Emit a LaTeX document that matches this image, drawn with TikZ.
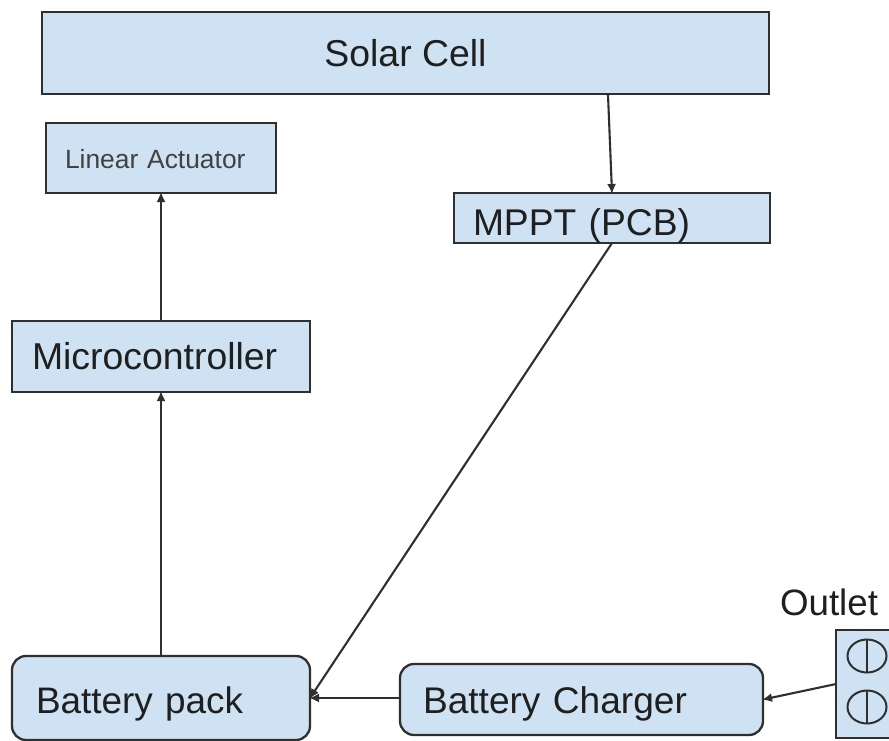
\documentclass[tikz,border=0pt]{standalone}
\usepackage{fontspec}
\setmainfont{Liberation Sans}
\usetikzlibrary{arrows.meta,calc,shapes.geometric}
\definecolor{boxfill}{HTML}{CFE2F3}
\definecolor{boxline}{HTML}{2F2F2F}
\definecolor{inktext}{HTML}{1F1F1F}
\tikzset{
  boxbase/.style={draw=boxline,fill=boxfill,line width=2.3pt,inner sep=0pt,outer sep=0pt,anchor=north west,text=inktext},
  sqbox/.style={boxbase},
  rbox/.style={boxbase,rounded corners=14pt},
  conn/.style={draw=boxline,line width=2.1pt,-{Latex[length=10pt,width=9pt]},shorten >=-1pt},
  socket/.style={ellipse,draw=boxline,line width=2pt,minimum width=39pt,minimum height=33pt,inner sep=0pt,outer sep=0pt}
}
\begin{document}
\begin{tikzpicture}[x=1pt,y=-1pt]
\useasboundingbox (0,0) rectangle (889,740);
\clip (0,0) rectangle (889,740);
\fill[white] (0,0) rectangle (889,740);

\node[sqbox,minimum width=727pt,minimum height=82pt,font=\fontsize{37.4pt}{40pt}\selectfont] (solar) at (42,12) {Solar Cell};
\node[sqbox,minimum width=230pt,minimum height=70pt,text width=212pt,align=left,text height=20pt,text depth=0pt,font=\fontsize{26.4pt}{30pt}\selectfont,text=inktext!85!white] (linear) at (46,123) {\hspace*{10pt}Linear Actuator};
\node[sqbox,minimum width=316pt,minimum height=50pt,text width=298pt,align=left,text height=34pt,text depth=0pt,font=\fontsize{37.2pt}{40pt}\selectfont] (mppt) at (454,193) {\hspace*{10pt}MPPT (PCB)};
\node[sqbox,minimum width=298pt,minimum height=71pt,text width=280pt,align=left,text height=25pt,text depth=0pt,font=\fontsize{37.4pt}{44pt}\selectfont] (micro) at (12,321) {\hspace*{11pt}Microcontroller};
\node[rbox,minimum width=298pt,minimum height=84pt,text width=280pt,align=left,text height=30pt,text depth=0pt,font=\fontsize{36.9pt}{40pt}\selectfont] (battery) at (12,656) {\hspace*{15pt}Battery pack};
\node[rbox,minimum width=363pt,minimum height=71pt,text width=345pt,align=left,text height=27pt,text depth=0pt,font=\fontsize{37.1pt}{40pt}\selectfont] (charger) at (400,664) {\hspace*{14pt}Battery Charger};
\node[sqbox,minimum width=70pt,minimum height=108pt] (outlet) at (836,630) {};
\node[socket] (s1) at (867,656) {};
\node[socket] (s2) at (867,707) {};
\draw[boxline,line width=2pt] (s1.north) -- (s1.south);
\draw[boxline,line width=2pt] (s2.north) -- (s2.south);
\node[anchor=base,text=inktext,inner sep=0pt,font=\fontsize{36.7pt}{40pt}\selectfont] (outletlabel) at (829,615) {Outlet};

\draw[conn] ($(solar.south west)!0.7785!(solar.south east)$) -- (mppt.north);
\draw[conn] (micro.north) -- (linear.south);
\draw[conn] (battery.north) -- (micro.south);
\draw[conn] (mppt.south) -- (battery.east);
\draw[conn] (charger.west |- battery.east) -- (battery.east);
\draw[conn] (outlet.west) -- (charger.east);
\end{tikzpicture}
\end{document}
